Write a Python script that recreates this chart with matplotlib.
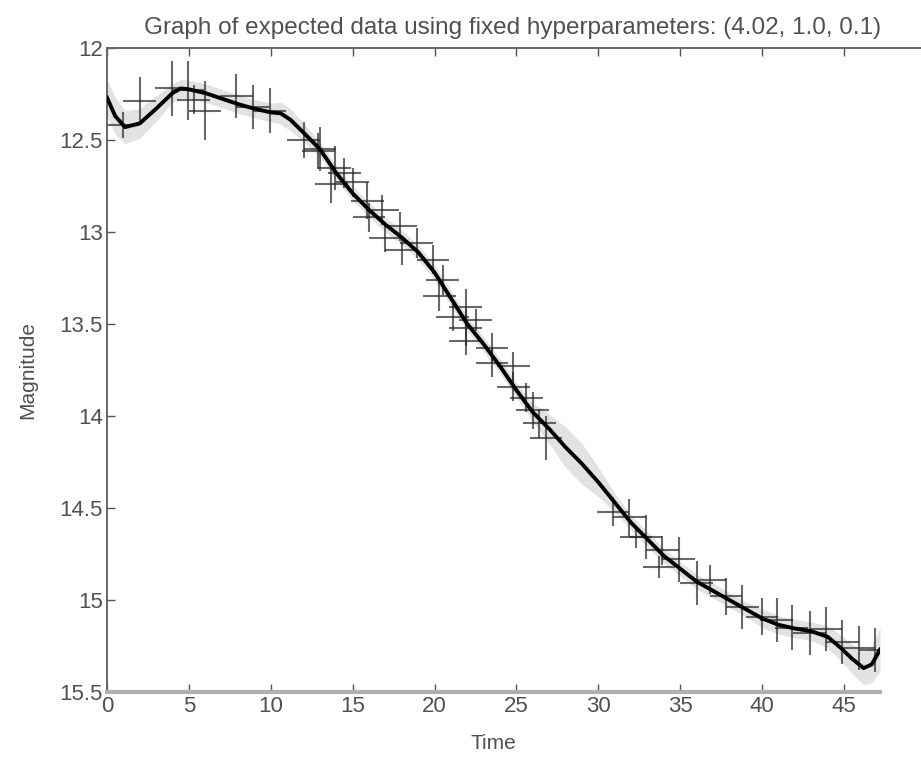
import numpy as np
import matplotlib.pyplot as plt
from matplotlib.lines import Line2D

plt.rcParams['font.family'] = ['Liberation Sans Narrow', 'Liberation Sans', 'DejaVu Sans']

# predicted mean curve and its 2-sigma half width
t_mean = [0, 0.5, 1.1, 2, 3, 4, 4.5, 5, 6, 7, 8, 9, 10, 10.6, 11.2, 12, 13, 14, 15, 16,
          17, 18, 19, 20, 21, 22, 23, 24, 25, 26, 27, 28, 29, 30, 31, 32, 33, 34, 35,
          36, 37, 38, 39, 40, 41, 42, 43, 44, 44.8, 45.5, 46.2, 46.7, 47.2]
mag_mean = [12.27, 12.37, 12.43, 12.41, 12.33, 12.245, 12.22, 12.225, 12.245, 12.275,
            12.305, 12.33, 12.35, 12.355, 12.39, 12.46, 12.55, 12.68, 12.79, 12.88,
            12.96, 13.03, 13.11, 13.22, 13.36, 13.50, 13.61, 13.73, 13.86, 13.98, 14.07,
            14.17, 14.26, 14.36, 14.47, 14.58, 14.67, 14.76, 14.83, 14.90, 14.95, 15.00,
            15.05, 15.10, 15.135, 15.155, 15.17, 15.20, 15.26, 15.32, 15.37, 15.35, 15.27]
band = [0.10, 0.10, 0.09, 0.08, 0.07, 0.05, 0.05, 0.05, 0.05, 0.05, 0.05, 0.05, 0.05,
        0.06, 0.06, 0.05, 0.04, 0.04, 0.04, 0.04, 0.04, 0.04, 0.04, 0.04, 0.04, 0.04,
        0.04, 0.04, 0.04, 0.05, 0.08, 0.11, 0.11, 0.08, 0.05, 0.04, 0.04, 0.04, 0.04,
        0.04, 0.04, 0.04, 0.04, 0.05, 0.05, 0.05, 0.05, 0.06, 0.07, 0.08, 0.09, 0.10, 0.12]

# observations
t_obs = [0.98, 2.0, 3.96, 4.94, 5.3, 5.98, 7.9, 8.9, 9.94, 12.0, 12.9, 13.0, 13.9, 13.7,
         14.5, 15.0, 15.9, 16.0, 16.8, 17.0, 17.9, 18.0, 18.9, 19.9, 20.5, 20.3, 21.9,
         21.1, 21.9, 22.5, 21.9, 23.5, 23.5, 24.8, 24.8, 25.6, 26.0, 26.4, 26.8, 30.9,
         31.9, 32.3, 32.9, 33.9, 33.7, 34.9, 36.0, 36.8, 37.8, 38.8, 40.0, 40.9, 41.8,
         42.9, 43.9, 44.9, 45.9, 46.9]
mag_obs = [12.42, 12.29, 12.22, 12.23, 12.28, 12.34, 12.26, 12.32, 12.34, 12.50, 12.56,
           12.55, 12.65, 12.74, 12.68, 12.73, 12.83, 12.92, 12.88, 13.03, 12.97, 13.10,
           13.06, 13.15, 13.26, 13.35, 13.41, 13.46, 13.52, 13.48, 13.59, 13.63, 13.71,
           13.73, 13.84, 13.90, 13.97, 14.04, 14.12, 14.52, 14.55, 14.66, 14.66, 14.73,
           14.82, 14.78, 14.91, 14.89, 14.98, 15.04, 15.09, 15.11, 15.15, 15.18, 15.16,
           15.23, 15.26, 15.27]
mag_err = [0.07, 0.13, 0.15, 0.16, 0.08, 0.16, 0.12, 0.12, 0.12, 0.10, 0.10, 0.12, 0.12,
           0.10, 0.08, 0.08, 0.10, 0.08, 0.08, 0.08, 0.08, 0.08, 0.08, 0.08, 0.08, 0.08,
           0.10, 0.08, 0.10, 0.06, 0.08, 0.08, 0.08, 0.08, 0.08, 0.08, 0.10, 0.08, 0.12,
           0.08, 0.10, 0.06, 0.12, 0.08, 0.06, 0.12, 0.12, 0.08, 0.10, 0.12, 0.10, 0.12,
           0.12, 0.12, 0.12, 0.12, 0.12, 0.12]
time_err = 1.0

xticks = [0, 5, 10, 15, 20, 25, 30, 35, 40, 45]
yticks = [12, 12.5, 13, 13.5, 14, 14.5, 15, 15.5]

fig = plt.figure(figsize=(9.21, 7.58), dpi=100)
ax = fig.add_axes([0.1162, 0.0871, 0.8393, 0.8496])

lo = np.array(mag_mean) - np.array(band)
hi = np.array(mag_mean) + np.array(band)
ax.fill_between(t_mean, lo, hi, color='#e2e2e2', lw=0, zorder=1)

ax.errorbar(t_obs, mag_obs, xerr=time_err, yerr=mag_err, fmt='none',
            ecolor='#2a2a2a', elinewidth=1.5, capsize=0, alpha=0.7, zorder=2)
ax.plot(t_mean, mag_mean, color='black', lw=2.8, zorder=3, solid_joinstyle='round')

ax.set_xlim(0, 47.2)
ax.set_ylim(15.5, 12)
ax.set_xticks(xticks)
ax.set_yticks(yticks)
ax.set_yticklabels([f'{v:g}' for v in yticks])
ax.tick_params(direction='in', length=6, width=1, color='#555555',
               labelcolor='#505050', labelsize=16, top=True, right=False, pad=3)

for s in ['left', 'top']:
    ax.spines[s].set_color('#666666')
    ax.spines[s].set_linewidth(1.4)
ax.spines['bottom'].set_color('#b0b0b0')
ax.spines['bottom'].set_linewidth(3)
ax.spines['right'].set_visible(False)

# top border continues into the next panel
fig.add_artist(Line2D([0.955, 1.0], [0.9367, 0.9367], color='#666666', lw=1.4))

ax.set_title('Graph of expected data using fixed hyperparameters: (4.02, 1.0, 0.1)',
             color='#505050', fontsize=17.5, pad=10, x=0.524)
ax.set_xlabel('Time', color='#505050', fontsize=15, labelpad=12)
ax.set_ylabel('Magnitude', color='#505050', fontsize=15, labelpad=16)

fig.savefig('out.png', dpi=100)
